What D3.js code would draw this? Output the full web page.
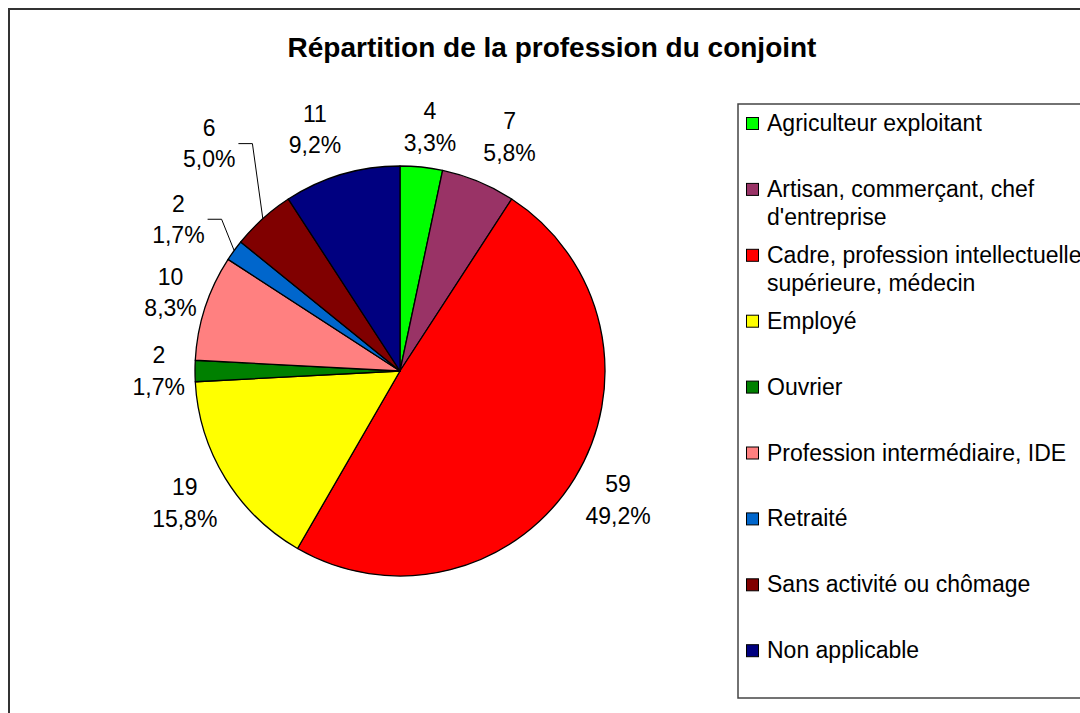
<!DOCTYPE html>
<html><head><meta charset="utf-8">
<script src="https://cdn.jsdelivr.net/npm/d3@7"></script>
<style>
body{margin:0;background:#fff;overflow:hidden}
svg{display:block}
text{font-family:"Liberation Sans",Arial,sans-serif;fill:#000}
</style>
</head><body>
<svg id="chart" width="1080" height="713"></svg>
<script>
// ---- data ----
const chartTitle = "Répartition de la profession du conjoint";
const categories = [
  "Agriculteur exploitant",
  "Artisan, commerçant, chef d'entreprise",
  "Cadre, profession intellectuelle supérieure, médecin",
  "Employé",
  "Ouvrier",
  "Profession intermédiaire, IDE",
  "Retraité",
  "Sans activité ou chômage",
  "Non applicable"
];
const values = [4, 7, 59, 19, 2, 10, 2, 6, 11];
const sliceColors = ["#00FF00","#993366","#FF0000","#FFFF00","#008000","#FF8080","#0066CC","#800000","#000080"];

// ---- layout (label fine-tuning: [angle offset in degrees, radial offset px]) ----
const labelNudge = [[1,0],[2.6,7],[-0.9,-3],[0,-4],[0,2],[0.9,-5],[-1.6,17],[2,44],[-2.9,6]];

const W = 1080, H = 713;
const cx = 400, cy = 371, R = 205;
const svg = d3.select("#chart");

// outer frame
svg.append("rect").attr("x", 9).attr("y", 9).attr("width", 1100).attr("height", 720)
  .attr("fill", "#fff").attr("stroke", "#333").attr("stroke-width", 2);

// title
svg.append("text").attr("x", 552).attr("y", 57).attr("text-anchor", "middle")
  .attr("font-size", 28).attr("font-weight", "bold").text(chartTitle);

const total = d3.sum(values);
const pie = d3.pie().sort(null).value(d => d)(values);
const arc = d3.arc().innerRadius(0).outerRadius(R);

const g = svg.append("g").attr("transform", `translate(${cx},${cy})`);
g.selectAll("path.slice").data(pie).join("path").attr("class", "slice")
  .attr("d", arc)
  .attr("fill", (d, i) => sliceColors[i])
  .attr("stroke", "#000").attr("stroke-width", 1.3).attr("stroke-linejoin", "round");

// labels
const fmtPct = v => (v / total * 100).toFixed(1).replace(".", ",") + "%";
const gap = 213, halfH = 30, lineGap = 31.5;
pie.forEach((d, i) => {
  const t = g.append("text").attr("font-size", 23).attr("text-anchor", "middle");
  const t1 = t.append("tspan").text(values[i]);
  const t2 = t.append("tspan").text(fmtPct(values[i]));
  const w = Math.max(t1.node().getComputedTextLength(), t2.node().getComputedTextLength());
  const a = w / 2;
  const mid0 = (d.startAngle + d.endAngle) / 2;
  const mid = mid0 + labelNudge[i][0] * Math.PI / 180;
  const dist = gap + Math.abs(Math.sin(mid)) * a + Math.abs(Math.cos(mid)) * halfH + labelNudge[i][1];
  const lx = dist * Math.sin(mid), ly = -dist * Math.cos(mid);
  t1.attr("x", lx).attr("y", ly - 7.75);
  t2.attr("x", lx).attr("y", ly - 7.75 + lineGap);
  if (labelNudge[i][1] > 10) {
    const pts = [
      [R * Math.sin(mid0), -R * Math.cos(mid0)],
      [lx + a + 17, ly],
      [lx + a + 3, ly]
    ];
    g.append("path").attr("d", d3.line()(pts)).attr("fill", "none")
      .attr("stroke", "#000").attr("stroke-width", 1);
  }
});

// legend
svg.append("rect").attr("x", 738).attr("y", 104).attr("width", 400).attr("height", 594)
  .attr("fill", "#fff").attr("stroke", "#444").attr("stroke-width", 1.5);

const maxW = 330;
categories.forEach((c, i) => {
  const by = 131 + i * 65.9;
  svg.append("rect").attr("x", 746.5).attr("y", by - 13.5).attr("width", 12).attr("height", 12)
    .attr("fill", sliceColors[i]).attr("stroke", "#000").attr("stroke-width", 1);
  const t = svg.append("text").attr("x", 767).attr("y", by).attr("font-size", 23);
  const words = c.split(" ");
  let line = [], tspan = t.append("tspan").attr("x", 767).attr("y", by);
  let lineNo = 0;
  words.forEach(wd => {
    line.push(wd);
    tspan.text(line.join(" "));
    if (tspan.node().getComputedTextLength() > maxW && line.length > 1) {
      line.pop();
      tspan.text(line.join(" "));
      line = [wd];
      lineNo++;
      tspan = t.append("tspan").attr("x", 767).attr("y", by + lineNo * 28).text(wd);
    }
  });
});
</script>
</body></html>
